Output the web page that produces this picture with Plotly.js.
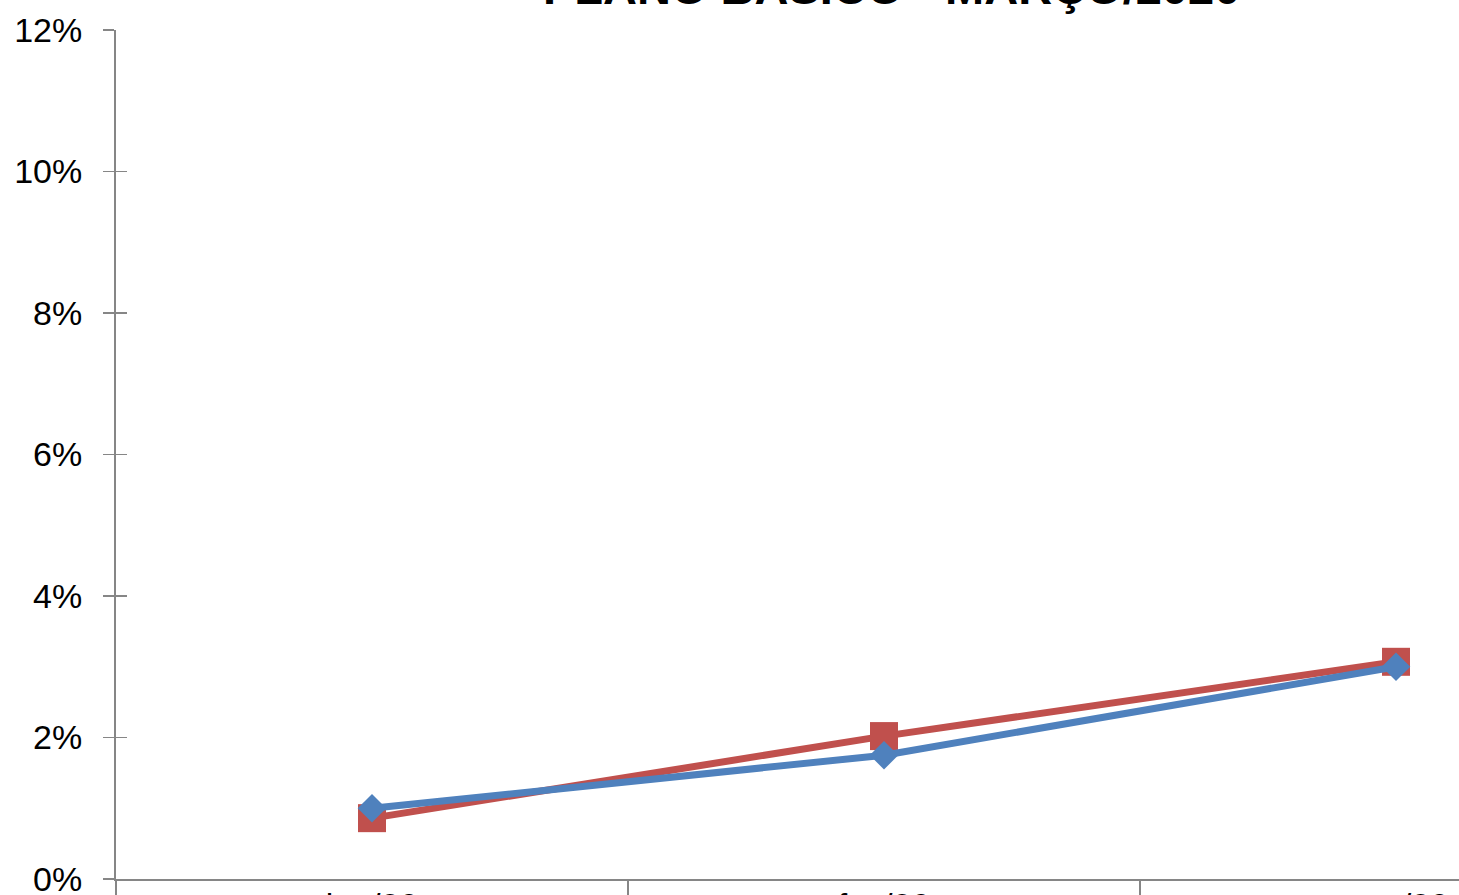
<!DOCTYPE html>
<html>
<head>
<meta charset="utf-8">
<script src="https://cdn.plot.ly/plotly-3.0.1.min.js"></script>
<style>html,body{margin:0;padding:0;background:#fff;overflow:hidden}#chart{width:1459px;height:895px}</style>
</head>
<body>
<div id="chart"></div>
<script>
const categories = ["jan/20", "fev/20", "mar/20"];
const seriesRed = [0.86, 2.02, 3.07];
const seriesBlue = [1.0, 1.75, 3.0];
const yTickVals = [0, 2, 4, 6, 8, 10, 12];
const titleText = "PLANO BÁSICO - MARÇO/2020";

const font = "Liberation Sans, Arial, sans-serif";
const axisGray = "#868686";
const xRange = [-0.5, -0.5 + 1343 / 512];

const traces = [
  {
    x: categories, y: seriesRed, type: "scatter", mode: "lines+markers",
    line: {color: "#C0504D", width: 7},
    marker: {symbol: "square", size: 28, color: "#C0504D"},
    cliponaxis: false, hoverinfo: "skip"
  },
  {
    x: categories, y: seriesBlue, type: "scatter", mode: "lines+markers",
    yaxis: "y2",
    line: {color: "#4F81BD", width: 7},
    marker: {symbol: "diamond", size: 22, color: "#4F81BD"},
    cliponaxis: false, hoverinfo: "skip"
  },
  {
    // empty helper trace so the tick-only x axis is drawn
    x: [], y: [], type: "scatter", mode: "markers",
    xaxis: "x2", yaxis: "y", hoverinfo: "skip", showlegend: false
  }
];

const layout = {
  width: 1459, height: 895,
  margin: {l: 116, r: 0, t: 30, b: 16},
  paper_bgcolor: "#fff", plot_bgcolor: "#fff",
  showlegend: false,
  font: {family: font, color: "#000"},
  xaxis: {
    type: "category", categoryarray: categories, categoryorder: "array",
    range: xRange,
    ticks: "",
    showline: true, linecolor: axisGray, linewidth: 2,
    showgrid: false, zeroline: false,
    tickfont: {size: 34, family: font, color: "#000"},
    ticklabelstandoff: -5,
    ticklabeloverflow: "allow",
    fixedrange: true
  },
  xaxis2: {
    type: "category", categoryarray: categories, categoryorder: "array",
    overlaying: "x", anchor: "y", side: "bottom",
    range: xRange,
    tickmode: "array", tickvals: categories, ticktext: categories,
    tickson: "boundaries",
    ticks: "outside", ticklen: 18, tickwidth: 1.5, tickcolor: axisGray,
    showticklabels: false, showline: false, showgrid: false, zeroline: false,
    fixedrange: true
  },
  yaxis: {
    range: [0, 12],
    tickmode: "array", tickvals: yTickVals, ticktext: yTickVals.map(v => v + "%"),
    ticks: "outside", ticklen: 11, tickwidth: 1.5, tickcolor: axisGray,
    showline: true, linecolor: axisGray, linewidth: 2,
    showgrid: false, zeroline: false,
    tickfont: {size: 34, family: font, color: "#000"},
    ticklabelstandoff: 14,
    ticklabeloverflow: "allow",
    fixedrange: true
  },
  yaxis2: {
    overlaying: "y", side: "left", range: [0, 12],
    tickmode: "array", tickvals: yTickVals,
    ticks: "inside", ticklen: 11, tickwidth: 1.5, tickcolor: axisGray,
    showticklabels: false, showline: false, showgrid: false, zeroline: false,
    fixedrange: true
  },
  annotations: [{
    text: "<b>" + titleText + "</b>",
    xref: "paper", yref: "paper",
    x: (891 - 116) / 1343, y: 1 + (30 - 16) / 849,
    xanchor: "center", yanchor: "bottom",
    showarrow: false,
    font: {size: 47, family: font, color: "#000"}
  }]
};

Plotly.newPlot("chart", traces, layout, {staticPlot: true, displayModeBar: false});
</script>
</body>
</html>
